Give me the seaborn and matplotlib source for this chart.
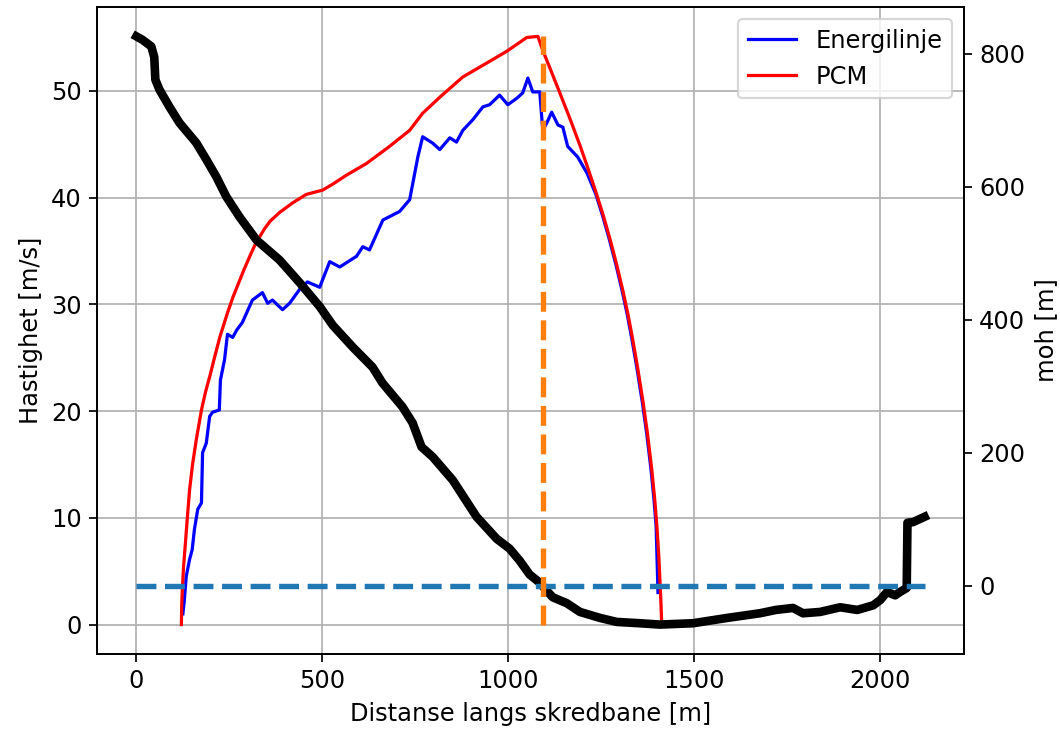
import numpy as np
import matplotlib
matplotlib.use("Agg")
import matplotlib.pyplot as plt
import seaborn as sns

# --- data ---
energi_x = [125, 129, 134, 143, 150, 156, 165, 175, 178, 188, 197, 205, 223, 226, 237, 245,
            259, 270, 285, 312, 339, 353, 366, 393, 412, 439, 460, 493, 520, 547, 592, 609,
            627, 663, 708, 735, 757, 770, 797, 816, 843, 861, 878, 905, 932, 950, 977, 999,
            1023, 1039, 1053, 1066, 1085, 1093, 1104, 1117, 1134, 1147, 1160, 1187, 1212,
            1236, 1254, 1272, 1290, 1307, 1320, 1333, 1346, 1361, 1373, 1384, 1392, 1398, 1403]
energi_v = [1.0, 2.3, 4.5, 6.1, 7.0, 8.9, 10.8, 11.4, 16.1, 17.0, 19.5, 19.9, 20.1, 22.9, 24.8, 27.2,
            26.9, 27.6, 28.3, 30.4, 31.1, 30.1, 30.4, 29.5, 30.1, 31.4, 32.1, 31.6, 34.0, 33.5, 34.5, 35.4,
            35.1, 37.9, 38.7, 39.8, 43.8, 45.7, 45.1, 44.5, 45.6, 45.2, 46.3, 47.3, 48.5, 48.7, 49.6, 48.7,
            49.3, 49.8, 51.2, 49.9, 49.9, 46.3, 47.0, 48.0, 46.8, 46.6, 44.8, 43.8, 42.3,
            40.3, 38.3, 36.1, 33.7, 31.2, 29.1, 26.7, 24.1, 20.8, 17.8, 14.6, 11.8, 9.2, 3.0]

pcm_x = [121, 122, 124, 127, 132, 137, 143, 151, 161, 175, 186, 197, 210, 225, 245, 260, 275,
         290, 305, 318, 331, 345, 360, 385, 420, 457, 501, 530, 565, 619, 681, 735, 770, 816,
         878, 942, 996, 1050, 1080, 1093, 1115, 1139, 1165, 1193, 1215, 1238, 1256, 1274, 1292,
         1309, 1322, 1335, 1348, 1363, 1375, 1386, 1394, 1400, 1405, 1408, 1411, 1413]
pcm_v = [0.0, 2.0, 3.6, 5.5, 7.7, 10.0, 12.6, 15.0, 17.3, 20.1, 21.8, 23.2, 25.0, 27.0, 29.2, 30.7, 32.0,
         33.3, 34.5, 35.5, 36.3, 37.1, 37.8, 38.6, 39.5, 40.3, 40.7, 41.3, 42.1, 43.2, 44.8, 46.3, 47.9, 49.4,
         51.3, 52.6, 53.7, 55.0, 55.1, 53.8, 51.9, 49.8, 47.5, 44.9, 42.7, 40.3, 38.3, 36.1, 33.7,
         31.2, 29.1, 26.7, 24.1, 20.8, 17.8, 14.6, 11.8, 9.2, 6.5, 4.3, 2.0, 0.0]

terreng_x = [0, 16, 40, 48, 51, 62, 89, 116, 161, 188, 215, 242, 277, 323, 385, 439, 493, 528,
             582, 635, 662, 716, 743, 767, 797, 851, 915, 969, 1004, 1031, 1058, 1085, 1100, 1120,
             1158, 1193, 1247, 1292, 1354, 1408, 1497, 1589, 1677, 1720, 1766, 1793, 1839, 1893,
             1939, 1982, 2001, 2019, 2041, 2054, 2072, 2074, 2089, 2120]
terreng_h = [826, 821, 811, 795, 761, 746, 720, 696, 666, 641, 615, 585, 555, 520, 490, 456, 420, 392,
             359, 329, 305, 269, 245, 209, 194, 159, 104, 71, 56, 38, 17, 5, -5, -17,
             -26, -39, -48, -54, -56, -58, -56, -48, -41, -36, -33, -41, -39, -32,
             -36, -29, -21, -9, -14, -9, -3, 95, 96, 104]

stopp_x = 1093  # marked position (vertical dashed line)

# --- figure ---
plt.rcParams["font.size"] = 11.2
DPI = 155
fig = plt.figure(figsize=(1060 / DPI, 729 / DPI), dpi=DPI)
ax = fig.add_subplot(111)
fig.subplots_adjust(left=0.0915, right=0.9094, bottom=0.1029, top=0.9904)

sns.lineplot(x=energi_x, y=energi_v, ax=ax, color="blue", lw=1.5, label="Energilinje",
             estimator=None, sort=False)
sns.lineplot(x=pcm_x, y=pcm_v, ax=ax, color="red", lw=1.5, label="PCM",
             estimator=None, sort=False)
ax.grid(True)
ax.set_xlabel("Distanse langs skredbane [m]")
ax.set_ylabel("Hastighet [m/s]")
ax.legend(loc="upper right", fontsize=11.2)

ax2 = ax.twinx()
sns.lineplot(x=terreng_x, y=terreng_h, ax=ax2, color="black", lw=4,
             estimator=None, sort=False, legend=False)
sns.lineplot(x=[terreng_x[0], terreng_x[-1]], y=[0, 0], ax=ax2, color="#1f77b4", lw=2.5,
             linestyle="--", estimator=None, sort=False, legend=False)
sns.lineplot(x=[stopp_x, stopp_x], y=[min(terreng_h), max(terreng_h)], ax=ax2, color="#ff7f0e",
             lw=2.5, linestyle="--", estimator=None, sort=False, legend=False)
ax2.set_ylabel("moh [m]")

fig.savefig("out.png", dpi=DPI)
